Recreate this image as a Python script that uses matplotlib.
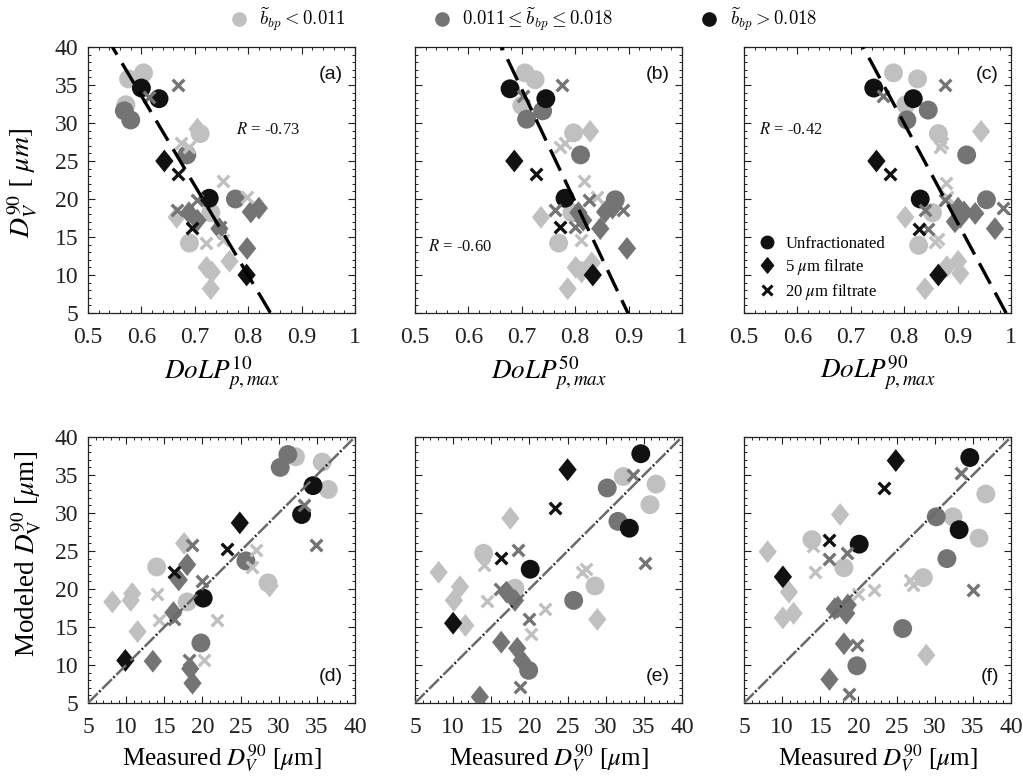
import matplotlib
matplotlib.use('Agg')
import matplotlib.pyplot as plt
from matplotlib.path import Path
from matplotlib.lines import Line2D
from matplotlib.font_manager import FontProperties
from matplotlib.ticker import MultipleLocator, FixedLocator, FixedFormatter
import numpy as np

plt.rcParams['font.family'] = ['Liberation Serif', 'DejaVu Serif']
plt.rcParams['mathtext.fontset'] = 'stix'

# ---------------- data ----------------
# sample order in every panel: light circles(6), mid circles(4), black circles(3),
# light diamonds(6), mid diamonds(6), black diamonds(2), light x(6), mid x(6), black x(2)
GROUP = [0]*6 + [1]*4 + [2]*3 + [0]*6 + [1]*6 + [2]*2 + [0]*6 + [1]*6 + [2]*2
SHAPE = ['o']*13 + ['d']*14 + ['x']*14

A_X = [0.576, 0.604, 0.571, 0.710, 0.730, 0.690,
       0.568, 0.580, 0.685, 0.776,
       0.600, 0.633, 0.727,
       0.705, 0.666, 0.765, 0.722, 0.732, 0.730,
       0.689, 0.705, 0.746, 0.805, 0.820, 0.798,
       0.643, 0.797,
       0.674, 0.690, 0.752, 0.721, 0.752, 0.798,
       0.669, 0.615, 0.666, 0.705, 0.748, 0.810,
       0.669, 0.695]
A_Y = [35.8, 36.6, 32.4, 28.6, 18.2, 14.2,
       31.6, 30.4, 25.8, 20.0,
       34.6, 33.2, 20.1,
       29.2, 17.6, 11.8, 11.0, 10.4, 8.2,
       18.2, 17.2, 16.1, 18.3, 18.8, 13.5,
       25.0, 10.0,
       27.4, 26.9, 22.4, 14.2, 14.6, 20.2,
       35.0, 33.4, 18.5, 19.9, 16.3, 18.6,
       23.3, 16.2]

B_X = [0.706, 0.725, 0.700, 0.797, 0.794, 0.769,
       0.709, 0.739, 0.810, 0.875,
       0.678, 0.745, 0.781,
       0.828, 0.736, 0.831, 0.801, 0.812, 0.786,
       0.806, 0.815, 0.847, 0.856, 0.870, 0.897,
       0.686, 0.833,
       0.781, 0.772, 0.817, 0.770, 0.811, 0.840,
       0.776, 0.703, 0.762, 0.825, 0.800, 0.890,
       0.727, 0.772]
B_Y = [36.6, 35.7, 32.3, 28.7, 18.2, 14.2,
       30.5, 31.6, 25.8, 19.9,
       34.5, 33.2, 20.1,
       28.9, 17.6, 11.6, 11.0, 10.4, 8.2,
       18.2, 17.2, 16.1, 18.3, 18.8, 13.5,
       25.0, 10.0,
       27.4, 26.9, 22.4, 14.2, 14.6, 20.2,
       35.0, 33.6, 18.5, 19.9, 16.3, 18.6,
       23.3, 16.3]

C_X = [0.780, 0.825, 0.803, 0.864, 0.853, 0.827,
       0.845, 0.805, 0.917, 0.954,
       0.743, 0.817, 0.830,
       0.944, 0.802, 0.901, 0.880, 0.905, 0.839,
       0.912, 0.895, 0.970, 0.933, 0.901, 0.905,
       0.748, 0.864,
       0.870, 0.867, 0.878, 0.858, 0.863, 0.880,
       0.876, 0.760, 0.839, 0.876, 0.845, 0.985,
       0.774, 0.827]
C_Y = [36.6, 35.8, 32.4, 28.6, 18.2, 13.9,
       31.7, 30.4, 25.8, 19.9,
       34.6, 33.2, 20.0,
       28.9, 17.6, 11.8, 11.1, 10.2, 8.2,
       18.3, 17.0, 16.1, 18.1, 18.8, 17.6,
       25.0, 10.0,
       27.4, 26.9, 22.1, 14.3, 14.7, 20.3,
       35.0, 33.5, 18.6, 19.9, 16.1, 18.8,
       23.3, 16.1]

D_X = [32.2, 35.7, 36.5, 14.0, 18.0, 28.6,
       30.2, 31.2, 25.7, 19.8,
       34.5, 33.0, 20.1,
       28.8, 17.6, 11.5, 10.8, 10.6, 8.2,
       18.0, 16.9, 16.2, 18.4, 18.7, 13.5,
       24.9, 9.9,
       27.0, 26.5, 21.9, 14.0, 14.3, 20.2,
       34.9, 33.3, 18.6, 19.9, 16.3, 18.2,
       23.2, 16.3]
D_Y = [37.4, 36.7, 33.1, 22.9, 18.3, 20.8,
       36.0, 37.7, 23.7, 12.9,
       33.6, 29.8, 18.8,
       20.4, 26.0, 14.4, 19.4, 18.5, 18.3,
       23.2, 21.2, 16.9, 9.5, 7.6, 10.5,
       28.7, 10.6,
       25.1, 22.9, 15.9, 19.4, 15.9, 10.7,
       25.8, 31.1, 25.8, 21.0, 16.1, 10.6,
       25.3, 22.2]

E_X = [32.3, 36.6, 35.8, 28.6, 14.0, 18.1,
       30.2, 31.6, 25.8, 19.9,
       34.6, 33.1, 20.1,
       28.9, 17.5, 10.9, 10.1, 11.6, 8.1,
       18.1, 17.0, 16.3, 18.4, 19.0, 13.5,
       25.0, 10.0,
       27.4, 26.9, 22.1, 14.0, 14.4, 20.2,
       35.1, 33.6, 18.5, 19.9, 16.2, 18.8,
       23.3, 16.3]
E_Y = [34.8, 33.8, 31.1, 20.4, 24.7, 20.1,
       33.3, 28.9, 18.5, 9.3,
       37.8, 28.0, 22.6,
       16.0, 29.3, 20.3, 18.5, 15.2, 22.2,
       18.5, 19.6, 13.0, 12.2, 10.6, 5.8,
       35.7, 15.5,
       22.6, 22.3, 17.4, 23.2, 18.4, 14.1,
       23.4, 35.0, 25.1, 16.1, 20.0, 7.1,
       30.6, 24.1]

F_X = [36.7, 32.4, 35.8, 28.5, 13.9, 18.1,
       30.2, 31.6, 25.8, 19.8,
       34.6, 33.2, 20.1,
       28.9, 17.6, 10.9, 10.1, 11.5, 8.1,
       16.9, 18.4, 18.1, 16.2, 18.6, 17.3,
       24.9, 10.1,
       27.2, 26.8, 22.0, 14.3, 14.0, 20.0,
       35.0, 33.5, 18.5, 19.8, 16.2, 18.7,
       23.3, 16.2]
F_Y = [32.5, 29.5, 26.7, 21.5, 26.5, 22.8,
       29.5, 24.0, 14.8, 9.9,
       37.3, 27.8, 25.9,
       11.3, 29.8, 19.6, 16.2, 16.8, 24.9,
       17.4, 16.8, 12.8, 8.1, 17.9, 17.6,
       36.9, 21.6,
       20.5, 21.2, 19.9, 22.2, 25.7, 19.4,
       19.9, 35.3, 24.8, 12.6, 24.0, 6.2,
       33.3, 26.4]

# regression lines (intercept, slope) and correlation coefficients
FIT_A = (104.5, -118.2)
FIT_B = (138.1, -148.1)
FIT_C = (134.5, -130.7)
R_VALUES = ['-0.73', '-0.60', '-0.42']
ONE_TO_ONE = [5, 40]

TOP_XTICKS = [0.5, 0.6, 0.7, 0.8, 0.9, 1.0]
TOP_XTICKLABELS = ['0.5', '0.6', '0.7', '0.8', '0.9', '1']
YTICKS = [5, 10, 15, 20, 25, 30, 35, 40]
PANEL_LABELS = ['(a)', '(b)', '(c)', '(d)', '(e)', '(f)']
GROUP_LABELS = [r'$\widetilde{b}_{bp} < 0.011$',
                r'$0.011 \leq \widetilde{b}_{bp} \leq 0.018$',
                r'$\widetilde{b}_{bp} > 0.018$']
MARKER_LABELS = ['Unfractionated', r'5 $\mu$m filrate', r'20 $\mu$m filtrate']

# ---------------- style ----------------
COLORS = ['#c0c0c0', '#747474', '#111111']
DIAMOND = Path([(0, 1), (0.8, 0), (0, -1), (-0.8, 0), (0, 1)],
               [Path.MOVETO, Path.LINETO, Path.LINETO, Path.LINETO, Path.CLOSEPOLY])

fig = plt.figure(figsize=(10.23, 7.83), dpi=100)
FW, FH = 1023, 783
LEFTS = [88, 415, 744]
TOPS = [47, 437]
AW, AH = 267, 266


def make_ax(l, t):
    return fig.add_axes([l / FW, 1 - (t + AH) / FH, AW / FW, AH / FH])


def draw_points(ax, xs, ys):
    xs = np.asarray(xs)
    ys = np.asarray(ys)
    grp = np.asarray(GROUP)
    shp = np.asarray(SHAPE)
    for shape in ['o', 'd', 'x']:
        for g in range(3):
            m = (grp == g) & (shp == shape)
            if shape == 'o':
                ax.scatter(xs[m], ys[m], s=185, marker='o', color=COLORS[g],
                           edgecolors='none', zorder=3)
            elif shape == 'd':
                ax.scatter(xs[m], ys[m], s=270, marker=DIAMOND, color=COLORS[g],
                           edgecolors='none', zorder=3)
            else:
                ax.scatter(xs[m], ys[m], s=70, marker='x', color=COLORS[g],
                           linewidths=2.4, zorder=4)


def style_ax(ax, top):
    ax.set_ylim(5, 40)
    ax.yaxis.set_major_locator(FixedLocator(YTICKS))
    ax.yaxis.set_minor_locator(MultipleLocator(1))
    if top:
        ax.set_xlim(0.5, 1.0)
        ax.xaxis.set_major_locator(FixedLocator(TOP_XTICKS))
        ax.xaxis.set_major_formatter(FixedFormatter(TOP_XTICKLABELS))
        ax.xaxis.set_minor_locator(MultipleLocator(0.02))
    else:
        ax.set_xlim(5, 40)
        ax.xaxis.set_major_locator(FixedLocator(YTICKS))
        ax.xaxis.set_minor_locator(MultipleLocator(1))
    ax.tick_params(which='both', direction='in', top=True, right=True,
                   colors='#222222', labelcolor='#222222')
    ax.tick_params(which='major', length=5, width=0.8, labelsize=17)
    ax.tick_params(axis='x', which='major', pad=10)
    ax.tick_params(axis='y', which='major', pad=7)
    ax.tick_params(which='minor', length=2.5, width=0.7)
    for sp in ax.spines.values():
        sp.set_color('#222222')
        sp.set_linewidth(0.9)


top_data = [(A_X, A_Y, FIT_A), (B_X, B_Y, FIT_B), (C_X, C_Y, FIT_C)]
bot_data = [(D_X, D_Y), (E_X, E_Y), (F_X, F_Y)]
r_pos = [(0.777, 29.1), (0.525, 13.7), (0.528, 29.1)]
sup = ['10', '50', '90']

axes_top = []
for i, (xs, ys, fit) in enumerate(top_data):
    ax = make_ax(LEFTS[i], TOPS[0])
    style_ax(ax, True)
    draw_points(ax, xs, ys)
    lx = np.array([0.5, 1.0])
    ax.plot(lx, fit[0] + fit[1] * lx, color='black', lw=2.4,
            dashes=(7, 3), zorder=5)
    ax.text(r_pos[i][0], r_pos[i][1], r'$R$ = ' + R_VALUES[i], fontsize=12,
            ha='left', va='center', color='#111111')
    ax.text(0.955, 0.895, PANEL_LABELS[i], transform=ax.transAxes, ha='right',
            va='center', fontsize=14, family=['Liberation Sans', 'DejaVu Sans'],
            color='#111111')
    ax.set_xlabel(r'$DoLP^{%s}_{p,max}$' % sup[i], fontsize=19.5, labelpad=4)
    if i > 0:
        ax.tick_params(axis='y', labelleft=False)
    axes_top.append(ax)

axes_top[0].set_ylabel(r'$D^{90}_{V}\ [\ \mu m]$', fontsize=20)
axes_top[0].yaxis.set_label_coords(-0.18, 0.49)

for i, (xs, ys) in enumerate(bot_data):
    ax = make_ax(LEFTS[i], TOPS[1])
    style_ax(ax, False)
    draw_points(ax, xs, ys)
    # 1:1 line: grey dashes with black dots in between
    ax.plot(ONE_TO_ONE, ONE_TO_ONE, color='#6a6a6a', lw=1.8,
            linestyle=(0, (5.5, 2.5)), zorder=5)
    ax.plot(ONE_TO_ONE, ONE_TO_ONE, color='#111111', lw=1.8,
            linestyle=(1.65, (0.7, 7.3)), zorder=5)
    ax.text(0.955, 0.10, PANEL_LABELS[3 + i], transform=ax.transAxes, ha='right',
            va='center', fontsize=14, family=['Liberation Sans', 'DejaVu Sans'],
            color='#111111')
    ax.set_xlabel(r'Measured $D^{90}_{V}$ [$\mu$m]', fontsize=18, labelpad=3)
    if i == 0:
        ax.set_ylabel(r'Modeled $D^{90}_{\mathrm{V}}$ [$\mu$m]', fontsize=19.5)
        ax.yaxis.set_label_coords(-0.165, 0.56)
    else:
        ax.tick_params(axis='y', labelleft=False)

# legend of marker types in panel (c)
mk_handles = [
    Line2D([], [], ls='none', marker='o', color='#111111', markersize=9),
    Line2D([], [], ls='none', marker=DIAMOND, color='#111111', markersize=11),
    Line2D([], [], ls='none', marker='x', color='#111111', markersize=6.5, mew=2.2),
]
axes_top[2].legend(mk_handles, MARKER_LABELS, loc='lower left',
                   bbox_to_anchor=(0.018, 0.005), frameon=False, fontsize=12,
                   handletextpad=0.6, labelspacing=0.3, handlelength=1.0,
                   borderaxespad=0.2)

# legend of backscattering groups at top
g_handles = [Line2D([], [], ls='none', marker='o', color=c, markersize=9.5)
             for c in COLORS]
fig.legend(g_handles, GROUP_LABELS, loc='center', bbox_to_anchor=(0.5115, 0.975),
           ncol=3, frameon=False, columnspacing=4.6, handletextpad=0.6,
           handlelength=1.0,
           prop=FontProperties(size=13.5, math_fontfamily='cm'))

fig.savefig('out.png', dpi=100)
